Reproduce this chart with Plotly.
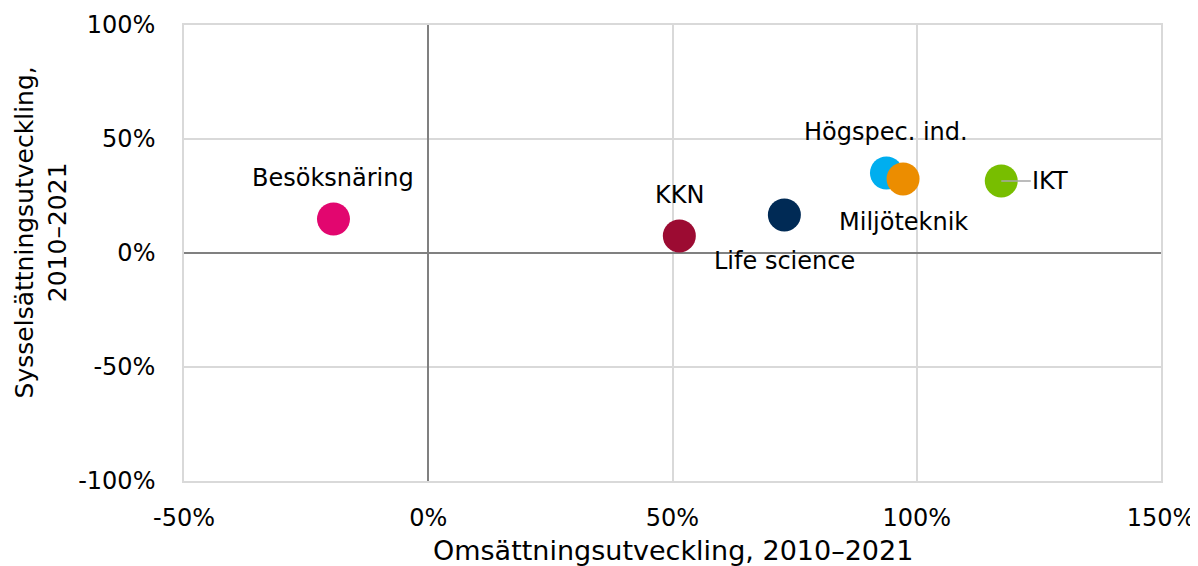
import plotly.graph_objects as go

names = ["Besöksnäring", "KKN", "Life science", "Högspec. ind.", "Miljöteknik", "IKT"]
turnover = [-19.4, 51.4, 72.9, 93.8, 97.2, 117.3]
employment = [14.9, 7.5, 16.7, 35.1, 32.5, 31.6]
colors = ["#E2066F", "#9C0B32", "#002A55", "#00AEEF", "#EC8D00", "#78BE00"]
tick_vals = [-50, 0, 50, 100, 150]
x_tick_text = ["-50%", "0%", "50%", "100%", "150%"]
y_vals = [-100, -50, 0, 50, 100]
y_tick_text = ["-100%", "-50%", "0%", "50%", "100%"]

FONT = "DejaVu Sans"
LBL = 24

fig = go.Figure()
for n, xv, yv, c in zip(names, turnover, employment, colors):
    fig.add_trace(go.Scatter(x=[xv], y=[yv], mode="markers", name=n,
                             marker=dict(size=33, color=c, line=dict(width=0)),
                             showlegend=False, hoverinfo="text", text=[n]))

# label offsets (pixels)
offsets = {
    "Besöksnäring": (0, 41),
    "KKN": (0, 41),
    "Life science": (0, -46),
    "Högspec. ind.": (0, 41),
    "Miljöteknik": (0, -43),
}
for n, xv, yv in zip(names, turnover, employment):
    if n in offsets:
        dx, dy = offsets[n]
        fig.add_annotation(x=xv, y=yv, xref="x", yref="y", text=n, showarrow=False,
                           xshift=dx, yshift=dy, font=dict(family=FONT, size=LBL, color="#000000"))
    else:
        fig.add_annotation(x=xv, y=yv, xref="x", yref="y", text=n, showarrow=True,
                           arrowhead=0, arrowwidth=1.5, arrowcolor="#A6A6A6",
                           ax=49, ay=0, standoff=0,
                           font=dict(family=FONT, size=LBL, color="#000000"))

fig.add_annotation(xref="paper", yref="paper", x=-0.146, y=0.546,
                   text="Sysselsättningsutveckling,<br>2010–2021", textangle=-90,
                   showarrow=False, xanchor="center", yanchor="middle",
                   font=dict(family=FONT, size=25, color="#000000"))

fig.add_annotation(xref="paper", yref="paper", x=0.5, y=-0.152,
                   text="Omsättningsutveckling, 2010–2021",
                   showarrow=False, xanchor="center", yanchor="middle",
                   font=dict(family=FONT, size=27, color="#000000"))

fig.update_xaxes(range=[-50, 150], tickvals=tick_vals, ticktext=x_tick_text,
                 showgrid=True, gridcolor="#D9D9D9", gridwidth=1.5,
                 zeroline=True, zerolinecolor="#808080", zerolinewidth=2,
                 showline=True, mirror=True, linecolor="#D9D9D9", linewidth=1.5,
                 ticks="", automargin=False, ticklabelstandoff=14,
                 tickfont=dict(family=FONT, size=LBL, color="#000000"))
fig.update_yaxes(range=[-100, 100], tickvals=y_vals, ticktext=y_tick_text,
                 showgrid=True, gridcolor="#D9D9D9", gridwidth=1.5,
                 zeroline=True, zerolinecolor="#808080", zerolinewidth=2,
                 showline=True, mirror=True, linecolor="#D9D9D9", linewidth=1.5,
                 ticks="", automargin=False, ticklabelstandoff=22,
                 tickfont=dict(family=FONT, size=LBL, color="#000000"))

fig.update_layout(width=1198, height=566, margin=dict(l=176, r=45, t=17, b=93),
                  plot_bgcolor="white", paper_bgcolor="white",
                  font=dict(family=FONT, size=LBL, color="#000000"))

fig.write_html("out.html")
